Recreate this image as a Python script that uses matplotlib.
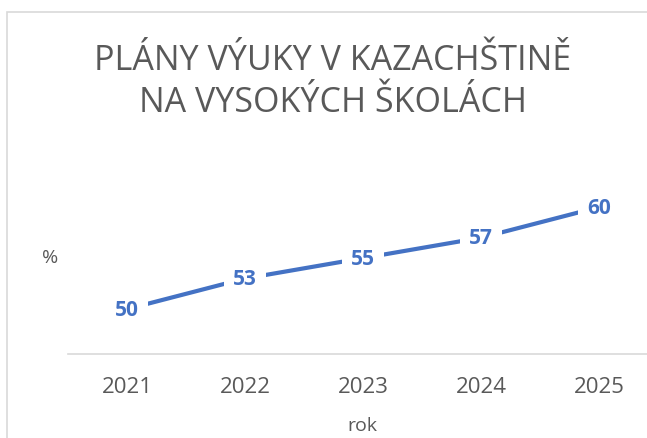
import matplotlib
matplotlib.use('Agg')
import matplotlib.pyplot as plt
from matplotlib.patches import Rectangle

# data
years = ['2021', '2022', '2023', '2024', '2025']
values = [50, 53, 55, 57, 60]

title = 'PLÁNY VÝUKY V KAZACHŠTINĚ\nNA VYSOKÝCH ŠKOLÁCH'
blue = '#4472C4'
grey = '#595959'

plt.rcParams['font.family'] = ['Open Sans', 'DejaVu Sans']

fig = plt.figure(figsize=(6.47, 4.39), dpi=100)

# chart border (cropped at right and bottom in the reference)
fig.patches.append(Rectangle((7 / 647, -0.1), 1.2, 0.1 + (1 - 13 / 439),
                             transform=fig.transFigure, fill=False,
                             edgecolor='#D9D9D9', linewidth=1.2))

ax = fig.add_axes([68 / 647, 1 - 355 / 439, 590 / 647, 204 / 439])
x = range(len(years))
ax.plot(x, values, color=blue, linewidth=3, solid_capstyle='butt')
for xi, v in zip(x, values):
    ax.text(xi, v, str(v), ha='center', va='center', color=blue,
            fontsize=15, fontweight='bold',
            bbox=dict(boxstyle='square,pad=0.45', facecolor='white', edgecolor='none'))

ax.set_xlim(-0.5, len(years) - 0.5)
ax.set_ylim(45.6, 65.6)
ax.set_xticks(list(x))
ax.set_xticklabels(years, fontsize=16, color=grey)
ax.tick_params(axis='x', length=0, pad=16)
ax.set_yticks([])
for s in ['top', 'right', 'left']:
    ax.spines[s].set_visible(False)
ax.spines['bottom'].set_color('#D9D9D9')
ax.spines['bottom'].set_linewidth(1.2)

fig.text(50 / 647, 1 - 258 / 439, '%', ha='center', va='center', fontsize=14, color=grey)
fig.text(362 / 647, 1 - 426 / 439, 'rok', ha='center', va='center', fontsize=14, color=grey)
fig.text(333 / 647, 1 - 82 / 439, title, ha='center', va='center', fontsize=24.5,
         color=grey, linespacing=1.3)

fig.savefig('out.png', dpi=100)
